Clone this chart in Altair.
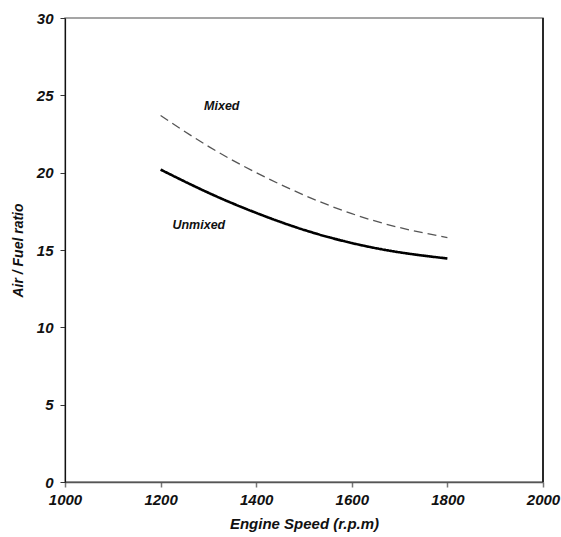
import altair as alt
import pandas as pd

speed = [1200, 1300, 1400, 1500, 1600, 1700, 1800]
unmixed = [20.2, 18.7, 17.4, 16.3, 15.45, 14.85, 14.45]
mixed = [23.7, 21.7, 20.0, 18.55, 17.35, 16.45, 15.8]

label_text = ["Mixed", "Unmixed"]
label_x = [1328, 1280]
label_y = [24.3, 16.6]

df = pd.DataFrame({
    "speed": speed * 2,
    "ratio": unmixed + mixed,
    "series": ["Unmixed"] * len(speed) + ["Mixed"] * len(speed),
})
labels = pd.DataFrame({"text": label_text, "x": label_x, "y": label_y})

FONT = "Liberation Sans"

xscale = alt.Scale(domain=[1000, 2000], nice=False)
yscale = alt.Scale(domain=[0, 30], nice=False)

xaxis = alt.Axis(values=[1000, 1200, 1400, 1600, 1800, 2000], format="d", title="Engine Speed (r.p.m)",
                 grid=False, domainColor="#555", domainWidth=1.5, tickColor="#777", tickSize=5,
                 tickWidth=1.5, labelFont=FONT, labelFontSize=15, labelFontStyle="italic",
                 labelFontWeight="bold", labelColor="#111", labelPadding=5,
                 titleFont=FONT, titleFontSize=15, titleFontStyle="italic", titleFontWeight="bold",
                 titleColor="#111", titlePadding=9, labelFlush=False)
yaxis = alt.Axis(values=[0, 5, 10, 15, 20, 25, 30], format="d", title="Air / Fuel ratio",
                 grid=False, domainColor="#111", domainWidth=1.2, tickColor="#333", tickSize=5,
                 labelFont=FONT, labelFontSize=15, labelFontStyle="italic",
                 labelFontWeight="bold", labelColor="#111", labelPadding=7,
                 titleFont=FONT, titleFontSize=14, titleFontStyle="italic", titleFontWeight="bold",
                 titleColor="#111", titlePadding=11, labelFlush=False)

lines = alt.Chart(df).mark_line(interpolate="natural").encode(
    x=alt.X("speed:Q", scale=xscale, axis=xaxis),
    y=alt.Y("ratio:Q", scale=yscale, axis=yaxis),
    detail="series:N",
    color=alt.Color("series:N", scale=alt.Scale(domain=["Unmixed", "Mixed"], range=["#000000", "#555555"]), legend=None),
    strokeWidth=alt.StrokeWidth("series:N", scale=alt.Scale(domain=["Unmixed", "Mixed"], range=[2.6, 1.3]), legend=None),
    strokeDash=alt.StrokeDash("series:N", scale=alt.Scale(domain=["Unmixed", "Mixed"], range=[[1, 0], [9, 5]]), legend=None),
)

text = alt.Chart(labels).mark_text(font=FONT, fontSize=12.5, fontStyle="italic", fontWeight="bold", color="#111").encode(
    x=alt.X("x:Q", scale=xscale),
    y=alt.Y("y:Q", scale=yscale),
    text="text:N",
)

right_edge = alt.Chart(labels).mark_rule(color="#222", strokeWidth=1.5).encode(
    x=alt.value(478), y=alt.value(0), y2=alt.value(464)
)

chart = alt.layer(lines, text, right_edge).properties(
    width=478, height=464,
    autosize=alt.AutoSizeParams(type="none"),
    padding={"left": 65, "top": 18, "right": 18, "bottom": 55},
    background="white",
).configure_view(stroke="#888", strokeWidth=1.5)

chart.save("out.html", embed_options={"renderer": "svg", "actions": False})
